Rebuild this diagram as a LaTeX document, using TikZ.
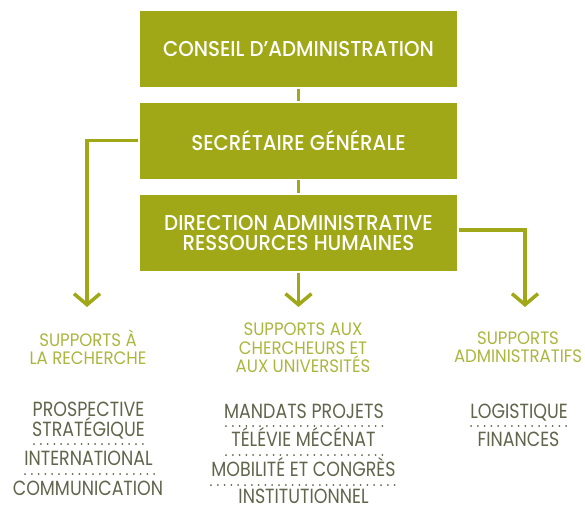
\documentclass[tikz,border=0pt]{standalone}
\usepackage{fontspec}
\setmainfont{Poppins}[FakeStretch=0.85]
\newfontfamily\headfont{Poppins}[FakeStretch=0.92]
\newfontfamily\boxfont{Poppins Medium}[FakeStretch=0.92]
\usetikzlibrary{arrows.meta}
\definecolor{boxgreen}{HTML}{A0A818}
\definecolor{headgreen}{HTML}{ABB63E}
\definecolor{itemgrey}{HTML}{62654C}
\tikzset{>={Straight Barb[length=11pt,width=26pt]}}

\begin{document}
\begin{tikzpicture}[x=1pt, y=-1pt, line width=3.5pt, align=center,
    box/.style={fill=boxgreen, text=white, minimum width=317pt, minimum height=76pt, inner sep=0pt,
      font=\boxfont\fontsize{21.5}{20}\selectfont},
    heading/.style={text=headgreen, inner sep=0pt, font=\headfont\fontsize{18}{18.5}\selectfont},
    item/.style={text=itemgrey, inner sep=0pt, anchor=base, font=\fontsize{20.5}{18}\selectfont},
    sep/.style={draw=itemgrey, line width=2pt, line cap=round, dash pattern=on 0pt off 6.8pt}]
  \useasboundingbox (0,0) rectangle (585,508);
  % boxes
  \node[box] (conseil) at (298.5, 49) {CONSEIL D’ADMINISTRATION};
  \node[box] (secretaire) at (298.5, 140.5) {SECRÉTAIRE GÉNÉRALE};
  \node[box] (direction) at (298.5, 233) {DIRECTION ADMINISTRATIVE \\ RESSOURCES HUMAINES};
  \draw[boxgreen] (conseil) -- (secretaire);
  \draw[boxgreen] (secretaire) -- (direction);
  % arrows
  \coordinate (recherche_end) at (87, 307);
  \coordinate (chercheurs_end) at (298.5, 307);
  \coordinate (admin_end) at (525, 307);
  \draw[->, boxgreen] (secretaire.west) -| (recherche_end);
  \draw[->, boxgreen] (direction) -- (chercheurs_end);
  \draw[->, boxgreen] ([yshift=3pt]direction.east) -| (admin_end);
  % headings
  \node[heading] (recherche) at (88, 347) {SUPPORTS À \\ LA RECHERCHE};
  \node[heading] (chercheurs) at (303, 348) {SUPPORTS AUX \\ CHERCHEURS ET \\ AUX UNIVERSITÉS};
  \node[heading] (admin) at (518, 347) {SUPPORTS \\ ADMINISTRATIFS};
  % left column
  \node[item, anchor=center] (prospective) at (88.5, 421) {PROSPECTIVE \\ STRATÉGIQUE};
  \node[item] (international) at (88.5, 465) {INTERNATIONAL};
  \node[item] (communication) at (88, 495) {COMMUNICATION};
  \draw[sep] (34, 444) -- (143, 444);
  \draw[sep] (25, 474) -- (157, 474);
  % middle column
  \node[item] (mandats) at (304, 418) {MANDATS PROJETS};
  \node[item] (televie) at (303.5, 446) {TÉLÉVIE MÉCÉNAT};
  \node[item] (mobilite) at (303.5, 476) {MOBILITÉ ET CONGRÈS};
  \node[item] (institutionnel) at (303.5, 503.5) {INSTITUTIONNEL};
  \draw[sep] (226, 426) -- (383, 426);
  \draw[sep] (226, 455) -- (383, 455);
  \draw[sep] (211, 485) -- (400, 485);
  % right column
  \node[item] (logistique) at (519, 418) {LOGISTIQUE};
  \node[item] (finances) at (518.5, 446) {FINANCES};
  \draw[sep] (471, 426) -- (567, 426);
\end{tikzpicture}
\end{document}
